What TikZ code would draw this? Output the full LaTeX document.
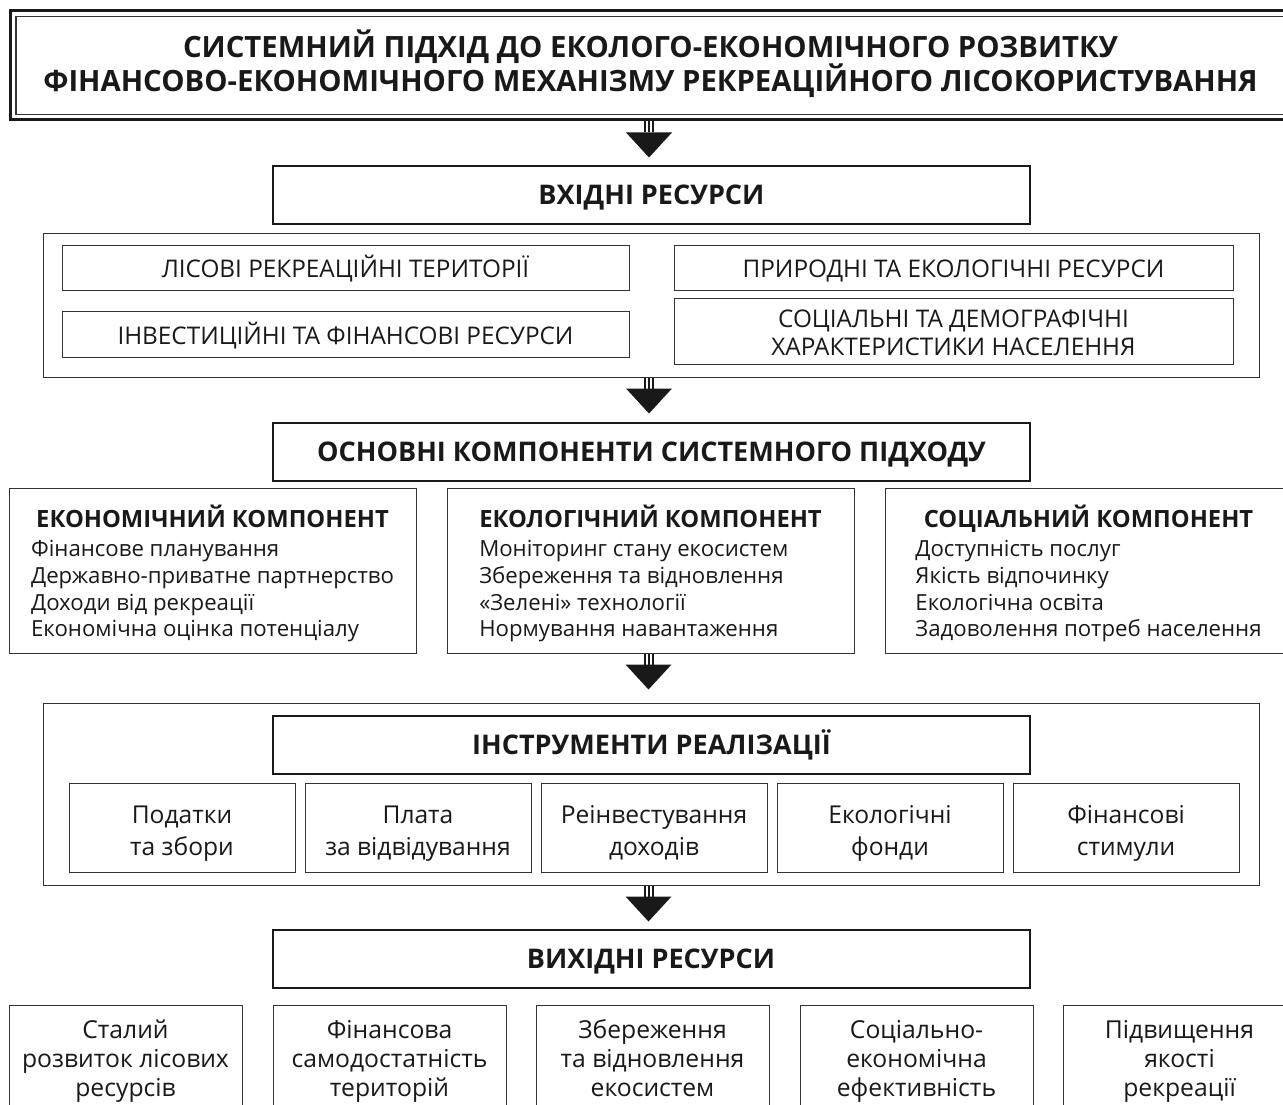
\documentclass[tikz,border=0pt]{standalone}
\usepackage{fontspec}
\setmainfont{Open Sans}
\usepackage{tikz}
\usetikzlibrary{arrows.meta, positioning, calc}

\newcommand{\compttl}{\fontsize{23.75}{27}\selectfont\bfseries}

\begin{document}
\begin{tikzpicture}[x=1pt, y=-1pt,
    blk/.style={draw=black!80, line width=1pt, inner sep=0pt, align=center, text=black!90},
    head/.style={blk, draw=black!90, line width=2pt, minimum width=757pt, minimum height=58pt, text height=19.3pt, text depth=0pt, font=\fontsize{27.05}{30}\selectfont\bfseries},
    res/.style={blk, text height=20pt, text depth=0pt, font=\fontsize{24.3}{28}\selectfont},
    comp/.style={blk, minimum width=407pt, minimum height=165pt, text height=30pt, text depth=117pt, font=\fontsize{22.2}{26.7}\selectfont},
    tool/.style={blk, minimum width=226pt, minimum height=89pt, text height=55pt, text depth=0pt, font=\fontsize{24.6}{32}\selectfont},
    outres/.style={blk, minimum width=233pt, minimum height=120pt, text height=62pt, text depth=0pt, font=\fontsize{24.7}{29}\selectfont},
    shaft/.style={black!90, line width=10pt, postaction={draw, white, line width=6pt}, postaction={draw, black!90, line width=2pt}}
]
\useasboundingbox (0,0) rectangle (1283,1105);
\clip (0,0) rectangle (1283,1105);

% Title with double frame
\node[blk, draw=black!90, line width=3pt, minimum width=1281pt, minimum height=109pt, text height=53pt, text depth=0pt, font=\fontsize{29.3}{31}\selectfont\bfseries] (title) at (650.5,65.5)
    {СИСТЕМНИЙ ПІДХІД ДО ЕКОЛОГО-ЕКОНОМІЧНОГО РОЗВИТКУ\\ФІНАНСОВО-ЕКОНОМІЧНОГО МЕХАНІЗМУ РЕКРЕАЦІЙНОГО ЛІСОКОРИСТУВАННЯ};
\node[blk, line width=1.2pt, minimum width=1269pt, minimum height=98pt] (titlein) at (title.center) {};

% Input resources
\node[head] (inres) at (651.5,195) {ВХІДНІ РЕСУРСИ};
\node[blk, minimum width=1216pt, minimum height=144pt] (incont) at (651,305) {};
\node[res, minimum width=567pt, minimum height=45pt] (forest) at (345.5,267.5) {ЛІСОВІ РЕКРЕАЦІЙНІ ТЕРИТОРІЇ};
\node[res, minimum width=567pt, minimum height=46pt] (invest) at (345.5,334) {ІНВЕСТИЦІЙНІ ТА ФІНАНСОВІ РЕСУРСИ};
\node[res, minimum width=559pt, minimum height=45pt] (nature) at (953.5,267.5) {ПРИРОДНІ ТА ЕКОЛОГІЧНІ РЕСУРСИ};
\node[res, minimum width=559pt, minimum height=66pt, text height=48pt] (social) at (953.5,331) {СОЦІАЛЬНІ ТА ДЕМОГРАФІЧНІ\\ХАРАКТЕРИСТИКИ НАСЕЛЕННЯ};

% Main components
\node[head] (corehd) at (651.5,452) {ОСНОВНІ КОМПОНЕНТИ СИСТЕМНОГО ПІДХОДУ};
\node[comp] (econ) at (212.5,570.5) {\begin{tabular}[t]{@{}l@{}}\multicolumn{1}{@{}c@{}}{\compttl ЕКОНОМІЧНИЙ КОМПОНЕНТ}\\[3pt]
    Фінансове планування\\ Державно-приватне партнерство\\ Доходи від рекреації\\ Економічна оцінка потенціалу\end{tabular}};
\node[comp] (ecol) at (650.5,570.5) {\begin{tabular}[t]{@{}l@{}}\multicolumn{1}{@{}c@{}}{\compttl ЕКОЛОГІЧНИЙ КОМПОНЕНТ}\\[3pt]
    Моніторинг стану екосистем\\ Збереження та відновлення\\ «Зелені» технології\\ Нормування навантаження\end{tabular}};
\node[comp] (soc) at (1088.5,570.5) {\begin{tabular}[t]{@{}l@{}}\multicolumn{1}{@{}c@{}}{\compttl СОЦІАЛЬНИЙ КОМПОНЕНТ}\\[3pt]
    Доступність послуг\\ Якість відпочинку\\ Екологічна освіта\\ Задоволення потреб населення\end{tabular}};

% Implementation tools
\node[blk, minimum width=1216pt, minimum height=182pt] (toolcont) at (651,794) {};
\node[head] (toolhd) at (651.5,745) {ІНСТРУМЕНТИ РЕАЛІЗАЦІЇ};
\node[tool] (tax) at (182,827.5) {Податки\\та збори};
\node[tool, right=9pt of tax] (fee) {Плата\\за відвідування};
\node[tool, right=9pt of fee] (reinv) {Реінвестування\\доходів};
\node[tool, right=9pt of reinv] (fund) {Екологічні\\фонди};
\node[tool, right=9pt of fund] (stim) {Фінансові\\стимули};

% Output resources
\node[head] (outhd) at (651,958.5) {ВИХІДНІ РЕСУРСИ};
\node[outres] (sust) at (125.5,1065) {Сталий\\розвиток лісових\\ресурсів};
\node[outres, right=30pt of sust] (selff) {Фінансова\\самодостатність\\територій};
\node[outres, right=29pt of selff] (eco) {Збереження\\та відновлення\\екосистем};
\node[outres, right=30pt of eco] (effic) {Соціально-\\економічна\\ефективність};
\node[outres, right=29pt of effic] (qual) {Підвищення\\якості\\рекреації};

% Flow arrows between blocks
\foreach \a/\b/\n in {title/inres/1, incont/corehd/2, ecol/toolcont/3, toolcont/outhd/4}{
  \draw[shaft] ([xshift=-2.5pt]\b.north |- \a.south) -- ++(0,11) coordinate (t\n);
  \fill[black!90] ([xshift=-23pt]t\n) -- ++(46,0) -- ++(-23,25) -- cycle;
}
\end{tikzpicture}
\end{document}
